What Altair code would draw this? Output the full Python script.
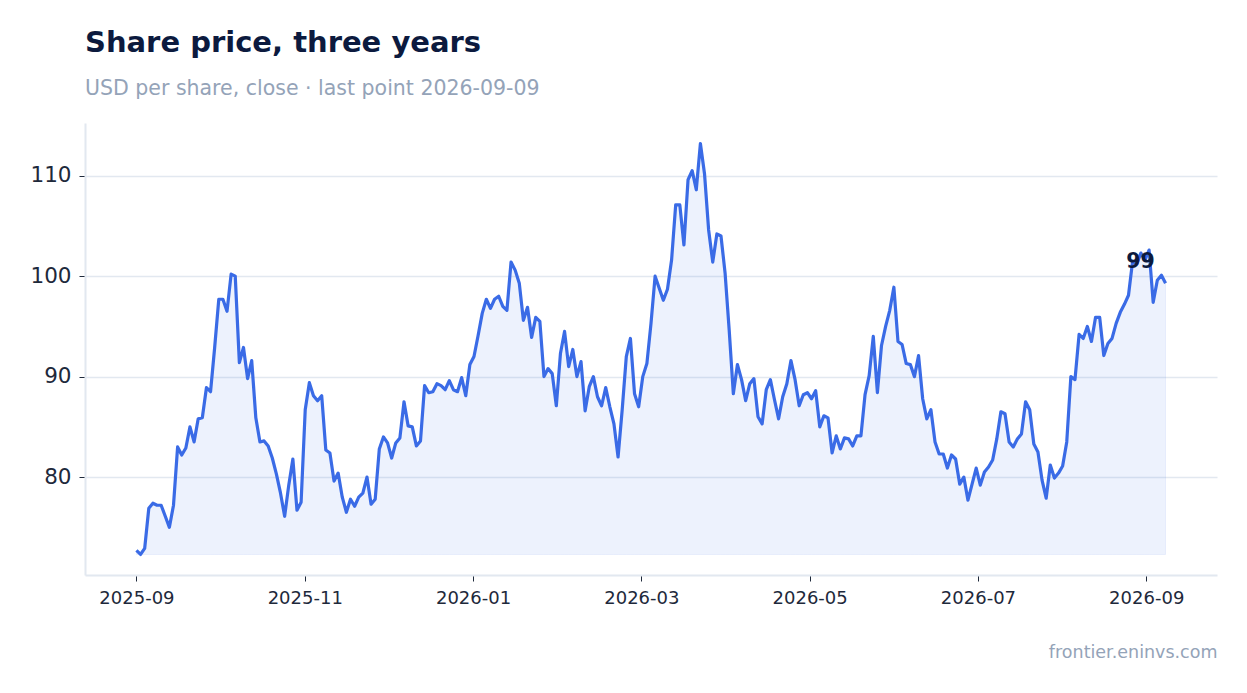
import altair as alt
import pandas as pd

# ---- text
title = "Share price, three years"
subtitle = "USD per share, close · last point 2026-09-09"
source = "frontier.eninvs.com"

# ---- data
first_day = "2025-09-01"
last_day = "2026-09-09"
# ticks sit every 61 days from the first point
tick_days = ["2025-09-01", "2025-11-01", "2026-01-01", "2026-03-03",
             "2026-05-03", "2026-07-03", "2026-09-02"]
y_ticks = [80, 90, 100, 110]

price = [
    72.7, 72.3, 72.9, 76.9, 77.4, 77.2, 77.2, 76.1, 75.0, 77.2, 83.0, 82.2, 82.9, 85.0, 83.5, 85.8,
    85.9, 88.9, 88.5, 92.9, 97.7, 97.7, 96.5, 100.2, 100.0, 91.4, 92.9, 89.8, 91.6, 85.9, 83.5,
    83.6, 83.1, 81.9, 80.3, 78.4, 76.1, 79.2, 81.8, 76.7, 77.5, 86.7, 89.4, 88.1, 87.6, 88.1,
    82.7, 82.4, 79.6, 80.4, 78.0, 76.5, 77.8, 77.1, 78.0, 78.4, 80.0, 77.3, 77.8, 82.8, 84.0,
    83.4, 81.9, 83.4, 83.9, 87.5, 85.1, 85.0, 83.1, 83.6, 89.1, 88.4, 88.5, 89.3, 89.1, 88.7,
    89.6, 88.7, 88.5, 89.9, 88.1, 91.2, 92.0, 94.1, 96.3, 97.7, 96.8, 97.7, 98.0, 97.0, 96.6, 101.4,
    100.6, 99.3, 95.6, 96.9, 93.9, 95.9, 95.5, 90.0, 90.8, 90.3, 87.1, 92.3, 94.5, 91.0, 92.7,
    90.0, 91.5, 86.6, 89.0, 90.0, 88.0, 87.1, 88.9, 87.0, 85.3, 82.0, 86.7, 92.0, 93.8, 88.3,
    87.0, 90.0, 91.3, 95.3, 100.0, 98.8, 97.6, 98.7, 101.6, 107.1, 107.1, 103.1, 109.6, 110.5, 108.6,
    113.2, 110.2, 104.6, 101.4, 104.2, 104.0, 100.3, 94.6, 88.3, 91.2, 89.7, 87.6, 89.3, 89.8, 86.0,
    85.3, 88.7, 89.7, 87.7, 85.8, 88.0, 89.3, 91.6, 89.7, 87.1, 88.2, 88.4, 87.8, 88.6, 85.0, 86.1,
    85.9, 82.4, 84.1, 82.8, 83.9, 83.8, 83.1, 84.1, 84.1, 88.2, 90.1, 94.0, 88.4, 93.1, 95.0,
    96.6, 98.9, 93.5, 93.2, 91.3, 91.2, 90.0, 92.1, 87.8, 85.8, 86.7, 83.5, 82.3, 82.3, 80.9,
    82.2, 81.8, 79.3, 80.0, 77.7, 79.3, 80.9, 79.2, 80.5, 81.0, 81.7, 83.8, 86.5, 86.3, 83.5,
    83.0, 83.8, 84.3, 87.5, 86.7, 83.3, 82.5, 79.7, 77.9, 81.2, 79.9, 80.4, 81.1, 83.5, 90.0,
    89.7, 94.2, 93.8, 95.0, 93.5, 95.9,
    95.9, 92.1, 93.3, 93.8, 95.3, 96.4, 97.2, 98.1, 101.5, 101.2, 102.3, 101.6, 102.6, 97.4,
    99.6, 100.1, 99.3,
]

# ---- colours
BLUE = "#3a6be6"
NAVY = "#0c1a3e"
GREY = "#94a3b8"
INK = "#1e293b"
RULE = "#e2e8f0"
FONT = "DejaVu Sans"

dates = pd.date_range(first_day, last_day, periods=len(price)).floor("min")
df = pd.DataFrame({"date": dates, "price": price})
df["base"] = min(price)

last = df.tail(1).copy()
last["label"] = last["price"].map(lambda v: f"{v:.0f}")


def dt(ts):
    ts = pd.Timestamp(ts)
    return alt.DateTime(year=ts.year, month=ts.month, date=ts.day,
                        hours=ts.hour, minutes=ts.minute)


span = dates[-1] - dates[0]
x_dom = [dt(dates[0] - span * 0.05), dt(dates[-1] + span * 0.05)]
rng = max(price) - min(price)
y_dom = [min(price) - 0.05 * rng, max(price) + 0.05 * rng]

x_enc = alt.X("date:T",
              scale=alt.Scale(domain=x_dom, nice=False),
              axis=alt.Axis(values=[dt(d) for d in tick_days], format="%Y-%m",
                            grid=False, title=source, titleAnchor="end",
                            titleAlign="right", titleFontSize=17.5,
                            titleFontWeight="normal", titleColor=GREY,
                            titlePadding=36, labelFontSize=18,
                            labelPadding=8))
y_enc = alt.Y("price:Q",
              scale=alt.Scale(domain=y_dom, nice=False, zero=False),
              axis=alt.Axis(values=y_ticks, title=None, labelFontSize=21.5,
                            labelPadding=8))

area = alt.Chart(df).mark_area(fill=BLUE, fillOpacity=0.09, stroke=BLUE,
                               strokeOpacity=0.08, strokeWidth=1
               ).encode(x=x_enc, y=y_enc, y2="base:Q")

line = alt.Chart(df).mark_line(color=BLUE, strokeWidth=3.2, strokeJoin="round"
               ).encode(x="date:T", y="price:Q")

tag = alt.Chart(last).mark_text(font=FONT, fontSize=20.5, fontWeight="bold",
                                color=NAVY, align="center", baseline="middle",
                                dx=-25, dy=-21
               ).encode(x="date:T", y="price:Q", text="label:N")

chart = alt.layer(area, line, tag).properties(
    width=1132, height=452,
    padding={"left": 21, "top": 20, "right": 22, "bottom": 10},
    title=alt.TitleParams(text=title, subtitle=subtitle, anchor="start",
                          frame="group", font=FONT, fontSize=29,
                          fontWeight="bold", color=NAVY,
                          subtitleFont=FONT, subtitleFontSize=20.5,
                          subtitleColor=GREY, subtitlePadding=21, offset=24)
).configure_view(stroke=None
).configure_axis(labelFont=FONT, titleFont=FONT, labelColor=INK,
                 domainColor=RULE, domainWidth=2, tickColor=INK, tickSize=6,
                 gridColor=RULE, gridWidth=1.5)

chart.save("out.html", embed_options={"renderer": "svg", "actions": False})
